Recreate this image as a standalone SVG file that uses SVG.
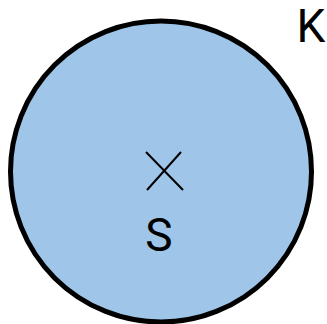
<svg xmlns="http://www.w3.org/2000/svg" width="327" height="324" viewBox="0 0 327 324">
<style>
.lbl{font-family:Roboto,"Liberation Sans",sans-serif;font-size:46px;fill:#000}
</style>
<rect width="327" height="324" fill="#fff"/>
<g id="circle-S">
<circle cx="161" cy="171.5" r="150.5" fill="#9fc5e8" stroke="#000" stroke-width="5"/>
<path d="M146 152L183 190M181 152L147 190" stroke="#000" stroke-width="2" fill="none"/>
<text class="lbl" x="159" y="251" text-anchor="middle">S</text>
</g>
<g id="label-K">
<text class="lbl" x="311" y="42" text-anchor="middle">K</text>
</g>
</svg>
